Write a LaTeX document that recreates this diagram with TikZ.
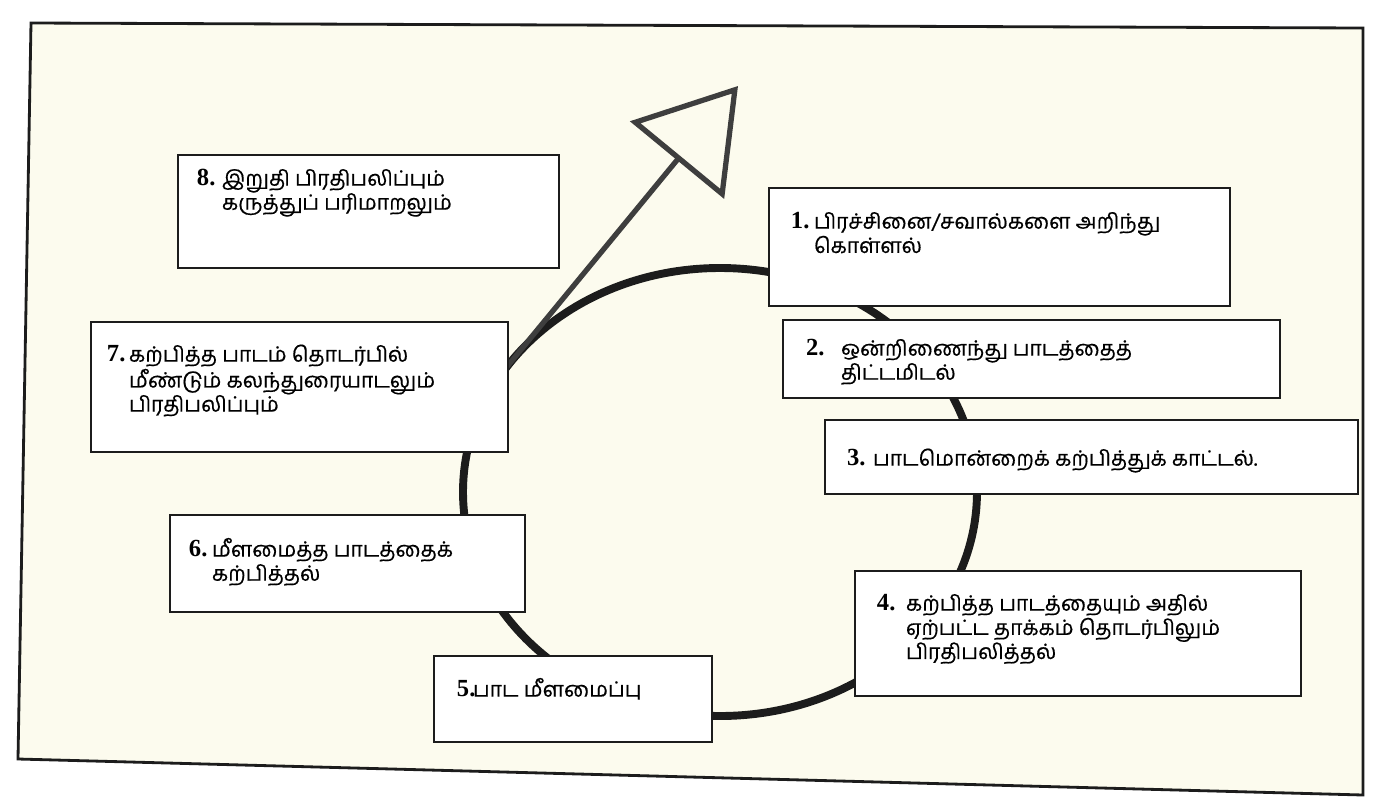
\documentclass[tikz,border=0pt]{standalone}
\usepackage{fontspec}
\usepackage{tikz}
\usetikzlibrary{arrows.meta}
\newfontfamily\tamilfont[Script=Tamil,FakeBold=0.5]{Hind Madurai}
\newfontfamily\numfont{Liberation Serif}
\definecolor{paper}{RGB}{252,251,238}
\definecolor{ink}{RGB}{28,28,28}
\newcommand{\stepline}[3]{\makebox[#1][l]{\numfont\bfseries\fontsize{14}{13.7}\selectfont #2}\begin{tabular}[t]{@{}l@{}}#3\end{tabular}}

\begin{document}
\begin{tikzpicture}[x=0.02cm,y=-0.02cm,
    stepbox/.style={draw=ink,line width=1.6pt,fill=white,inner sep=0pt},
    steplabel/.style={anchor=base west,inner sep=0pt,
      font=\tamilfont\fontsize{12}{13.7}\selectfont}]
  \useasboundingbox (0,0) rectangle (1374,799);
  \fill[white] (0,0) rectangle (1374,799);
  % page frame
  \draw[ink,line width=1.6pt,fill=paper] (31,23) -- (1363,28) -- (1363,795) -- (18,759) -- cycle;
  % the cycle and the way out of it
  \coordinate (c) at (720,492);
  \draw[ink,line width=4.5pt] (c) ellipse (257 and 224);
  \path (c) ++(214:257 and 224) coordinate (foot);
  \coordinate (tip) at (738,86);
  \draw[ink!85,line width=3pt,-{Triangle[open,length=1.92cm,width=2.42cm]}] (foot) -- (tip);
  % steps
  \node[stepbox,minimum width=7.62cm,minimum height=2.26cm] (s8) at (368.5,211.5) {};
  \node[steplabel] (t8) at ([shift={(20,32)}]s8.north west)
    {\stepline{0.5cm}{8.}{இறுதி பிரதிபலிப்பும்\\கருத்துப் பரிமாறலும்}};
  \node[stepbox,minimum width=9.22cm,minimum height=2.36cm] (s1) at (999.5,247) {};
  \node[steplabel] (t1) at ([shift={(23,42)}]s1.north west)
    {\stepline{0.46cm}{1.}{பிரச்சினை/சவால்களை அறிந்து\\கொள்ளல்}};
  \node[stepbox,minimum width=9.94cm,minimum height=1.56cm] (s2) at (1031.5,359) {};
  \node[steplabel] (t2) at ([shift={(24,37)}]s2.north west)
    {\stepline{0.7cm}{2.}{ஒன்றிணைந்து பாடத்தைத்\\திட்டமிடல்}};
  \node[stepbox,minimum width=10.66cm,minimum height=1.48cm] (s3) at (1091.5,457) {};
  \node[steplabel] (t3) at ([shift={(23,47)}]s3.north west)
    {\stepline{0.52cm}{3.}{பாடமொன்றைக் கற்பித்துக் காட்டல்.}};
  \node[stepbox,minimum width=8.92cm,minimum height=2.5cm] (s4) at (1078,633.5) {};
  \node[steplabel] (t4) at ([shift={(23,41)}]s4.north west)
    {\stepline{0.58cm}{4.}{கற்பித்த பாடத்தையும் அதில்\\ஏற்பட்ட தாக்கம் தொடர்பிலும்\\பிரதிபலித்தல்}};
  \node[stepbox,minimum width=5.56cm,minimum height=1.72cm] (s5) at (573,699) {};
  \node[steplabel] (t5) at ([shift={(24,42)}]s5.north west)
    {\stepline{0.32cm}{5.}{பாட மீளமைப்பு}};
  \node[stepbox,minimum width=7.1cm,minimum height=1.94cm] (s6) at (347.5,563.5) {};
  \node[steplabel] (t6) at ([shift={(20,43)}]s6.north west)
    {\stepline{0.46cm}{6.}{மீளமைத்த பாடத்தைக்\\கற்பித்தல்}};
  \node[stepbox,minimum width=8.34cm,minimum height=2.6cm] (s7) at (299.5,387) {};
  \node[steplabel] (t7) at ([shift={(17,41)}]s7.north west)
    {\stepline{0.44cm}{7.}{கற்பித்த பாடம் தொடர்பில்\\மீண்டும் கலந்துரையாடலும்\\பிரதிபலிப்பும்}};
\end{tikzpicture}
\end{document}
